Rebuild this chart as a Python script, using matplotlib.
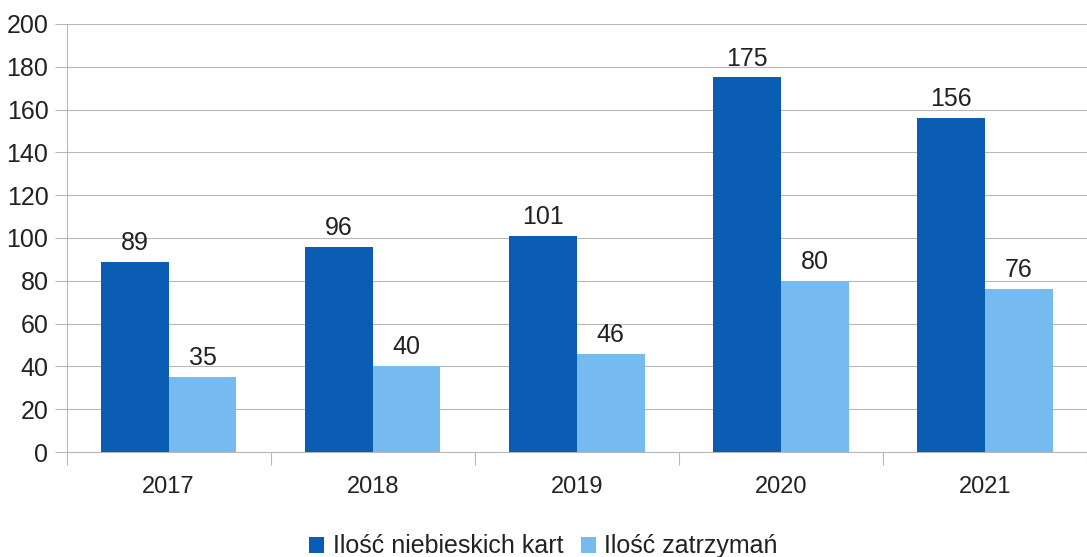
import matplotlib.pyplot as plt
import numpy as np

plt.rcParams['font.family'] = ['Liberation Sans', 'DejaVu Sans']

years = ['2017', '2018', '2019', '2020', '2021']
blue_cards = [89, 96, 101, 175, 156]
stops = [35, 40, 46, 80, 76]
series_names = ['Ilość niebieskich kart', 'Ilość zatrzymań']

dark = '#0b5cb3'
light = '#76bbf0'
grid_c = '#b8b8b8'
txt = '#222222'

fig = plt.figure(figsize=(10.87, 5.57), dpi=100)
ax = fig.add_axes([0.0612, 0.1885, 0.9388, 0.7685])

x = np.arange(len(years))
w = 0.332
b1 = ax.bar(x - w / 2, blue_cards, w, color=dark, label=series_names[0], zorder=3)
b2 = ax.bar(x + w / 2, stops, w, color=light, label=series_names[1], zorder=3)

for bars, vals in ((b1, blue_cards), (b2, stops)):
    for r, v in zip(bars, vals):
        ax.annotate(str(v), (r.get_x() + r.get_width() / 2, v), xytext=(0, 5),
                    textcoords='offset points', ha='center', va='bottom',
                    fontsize=18, color=txt)

ax.set_ylim(0, 200)
ax.set_xlim(-0.5, 4.478)
ax.set_yticks(range(0, 201, 20))
ax.yaxis.grid(True, color=grid_c, linewidth=0.8, zorder=0)

ax.set_xticks(x)
ax.set_xticklabels(years)
ax.set_xticks(np.arange(-0.5, 5, 1), minor=True)
ax.tick_params(axis='x', which='major', length=0, pad=17, labelsize=17, labelcolor=txt)
ax.tick_params(axis='x', which='minor', length=9, color=grid_c, width=0.8)
ax.tick_params(axis='y', length=9, color=grid_c, width=0.8, pad=4, labelsize=18, labelcolor=txt)

for s in ('top', 'right'):
    ax.spines[s].set_visible(False)
for s in ('left', 'bottom'):
    ax.spines[s].set_color(grid_c)
    ax.spines[s].set_linewidth(0.8)

fig.legend(loc='lower center', bbox_to_anchor=(0.5, -0.043), ncol=2, frameon=False,
           fontsize=18, handlelength=0.6, handleheight=0.6, handletextpad=0.35,
           columnspacing=0.7, labelcolor=txt)

fig.savefig('out.png', dpi=100)
